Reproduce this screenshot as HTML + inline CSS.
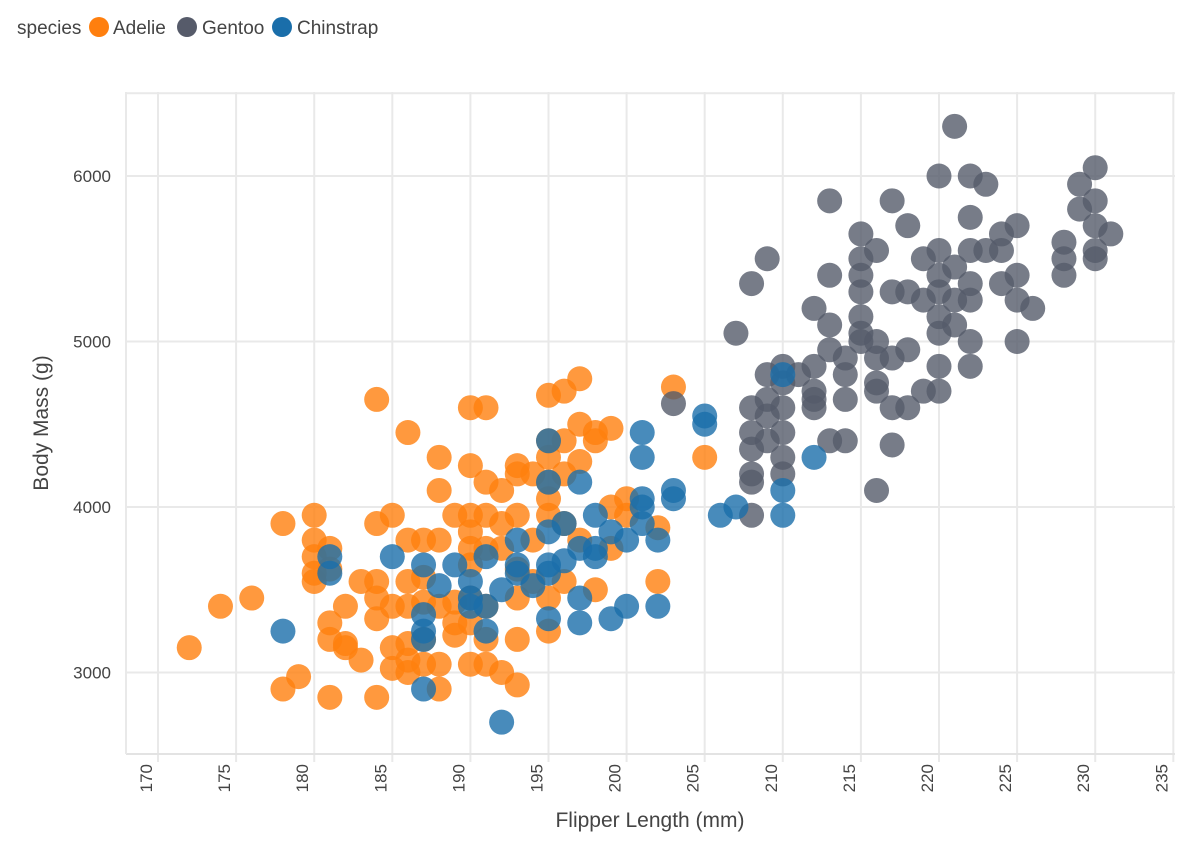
<!DOCTYPE html>
<html><head><meta charset="utf-8">
<style>
body{margin:0;background:#fff;font-family:"Liberation Sans Narrow","Liberation Sans",sans-serif;}
svg text{fill:#444;}
</style></head>
<body>
<svg id="chart" width="1186" height="842" xmlns="http://www.w3.org/2000/svg">
<g id="legend">
<text x="17" y="34" font-size="19">species</text>
<circle cx="99" cy="27" r="10" fill="#ff7f0e"/>
<text x="113" y="34" font-size="19">Adelie</text>
<circle cx="187" cy="27" r="10" fill="#565b6a"/>
<text x="202" y="34" font-size="19">Gentoo</text>
<circle cx="282" cy="27" r="10" fill="#1a6eaa"/>
<text x="297" y="34" font-size="19">Chinstrap</text>
</g>
<g id="grid"></g>
<g id="marks"></g>
<g id="axes"></g>
<text x="650" y="827" font-size="21" text-anchor="middle">Flipper Length (mm)</text>
<text transform="translate(48,423) rotate(-90)" font-size="21" text-anchor="middle">Body Mass (g)</text>
</svg>
<script>
const xTicks=[170,175,180,185,190,195,200,205,210,215,220,225,230,235];
const yTicks=[3000,4000,5000,6000];
const species=["Adelie","Gentoo","Chinstrap"];
const adelieX=[172,174,176,178,180,180,180,180,180,181,181,181,181,181,178,179,182,182,182,183,183,184,184,184,184,184,184,185,185,185,185,186,186,186,186,186,186,186,187,187,187,187,187,188,188,188,188,188,188,189,189,189,189,190,190,190,190,190,190,190,190,190,191,191,191,191,191,191,191,192,192,192,192,193,193,193,193,193,193,193,194,194,194,195,195,195,195,195,195,195,195,196,196,196,196,196,197,197,197,197,198,198,198,199,199,199,200,200,202,202,203,205];
const adelieY=[3150,3400,3450,3900,3950,3800,3700,3600,3550,3750,3625,3300,3200,2850,2900,2975,3400,3175,3150,3075,3550,4650,3900,3550,3450,3325,2850,3950,3400,3150,3025,4450,3800,3550,3400,3075,3175,3000,3800,3575,3425,3200,3050,4300,4100,3800,2900,3050,3400,3950,3425,3300,3225,4600,4250,3950,3850,3750,3650,3050,3450,3300,4600,4150,3950,3750,3400,3200,3050,4100,3900,3750,3000,4250,4200,3950,3450,3200,2925,3625,4200,3800,3550,4675,4400,4300,4150,4050,3950,3450,3250,4700,4400,4200,3900,3550,4775,4500,4275,3800,4450,4400,3500,4475,4000,3750,4050,3950,3875,3550,4725,4300];
const gentooX=[221,220,222,223,230,229,230,213,217,218,222,229,230,231,228,228,228,230,230,215,216,215,213,215,215,209,208,220,219,223,224,225,224,222,220,221,225,224,222,222,225,226,217,218,219,220,221,220,220,221,222,225,222,212,213,215,215,215,216,213,212,214,216,217,218,220,207,209,210,211,212,214,216,216,217,219,220,218,212,214,212,210,209,208,209,210,208,208,209,208,210,210,208,208,213,214,217,216,203,210];
const gentooY=[6300,6000,6000,5950,6050,5950,5850,5850,5850,5700,5750,5800,5700,5650,5600,5500,5400,5500,5550,5650,5550,5500,5400,5400,5300,5500,5350,5550,5500,5550,5550,5700,5650,5550,5400,5450,5400,5350,5350,5250,5250,5200,5300,5300,5250,5300,5250,5150,5050,5100,5000,5000,4850,5200,5100,5150,5050,5000,5000,4950,4850,4900,4900,4900,4950,4850,5050,4800,4750,4800,4700,4800,4700,4750,4600,4700,4700,4600,4650,4650,4600,4600,4650,4600,4550,4450,4450,4350,4400,4200,4300,4200,4150,3950,4400,4400,4375,4100,4625,4850];
const chinX=[192,178,187,181,181,185,187,187,187,187,188,189,190,190,190,191,191,191,192,193,193,193,194,195,195,195,195,195,195,196,196,197,197,197,197,198,198,198,199,199,200,200,201,201,201,201,201,202,202,203,203,205,205,206,207,210,210,210,212];
const chinY=[2700,3250,2900,3700,3600,3700,3650,3350,3250,3200,3525,3650,3550,3450,3400,3700,3400,3250,3500,3800,3650,3600,3525,4400,4150,3850,3650,3600,3325,3675,3900,4150,3750,3450,3300,3750,3700,3950,3325,3850,3800,3400,4450,4300,4050,4000,3900,3800,3400,4100,4050,4550,4500,3950,4000,4800,4100,3950,4300];

const NS="http://www.w3.org/2000/svg";
const L=126,R=1175,T=92,B=754;
function xs(v){return 158+(v-170)*15.62;}
function ys(v){return 176+(6000-v)*0.1655;}
const grid=document.getElementById('grid'),axes=document.getElementById('axes'),marks=document.getElementById('marks');
function mk(tag,attrs,parent){const e=document.createElementNS(NS,tag);for(const k in attrs)e.setAttribute(k,attrs[k]);parent.appendChild(e);return e;}
xTicks.forEach(t=>{
  const l=mk('line',{x1:xs(t),x2:xs(t),y1:T,y2:B+8,stroke:'#e9e9e9','stroke-width':2},grid);
  
  
  const tx=mk('text',{transform:`translate(${xs(t)-6},764) rotate(-90)`,'font-size':17,'text-anchor':'end'},axes);
  tx.textContent=t;
  
  
});
[3000,4000,5000,6000,6500].forEach(t=>{
  const l=mk('line',{x1:L,x2:R,y1:ys(t),y2:ys(t),stroke:'#e9e9e9','stroke-width':2},grid);
  
  
});
yTicks.forEach(t=>{
  const tx=mk('text',{x:111,y:ys(t)+6,'font-size':17,'text-anchor':'end'},axes);
  tx.textContent=t;
  
  
});
const ax=mk('line',{x1:L,x2:R,y1:B,y2:B,stroke:'#e3e3e3','stroke-width':2},axes);


const ay=mk('line',{x1:L,x2:L,y1:T,y2:B,stroke:'#e9e9e9','stroke-width':2},axes);


function draw(xa,ya,color,name){
  for(let i=0;i<xa.length;i++){
    const c=mk('circle',{cx:xs(xa[i]),cy:ys(ya[i]),r:12.5,fill:color,'fill-opacity':0.8},marks);
    
    
  }
}
draw(adelieX,adelieY,'#ff7f0e','adelie');
draw(gentooX,gentooY,'#555b6a','gentoo');
draw(chinX,chinY,'#1a6eaa','chinstrap');
</script>
</body></html>
